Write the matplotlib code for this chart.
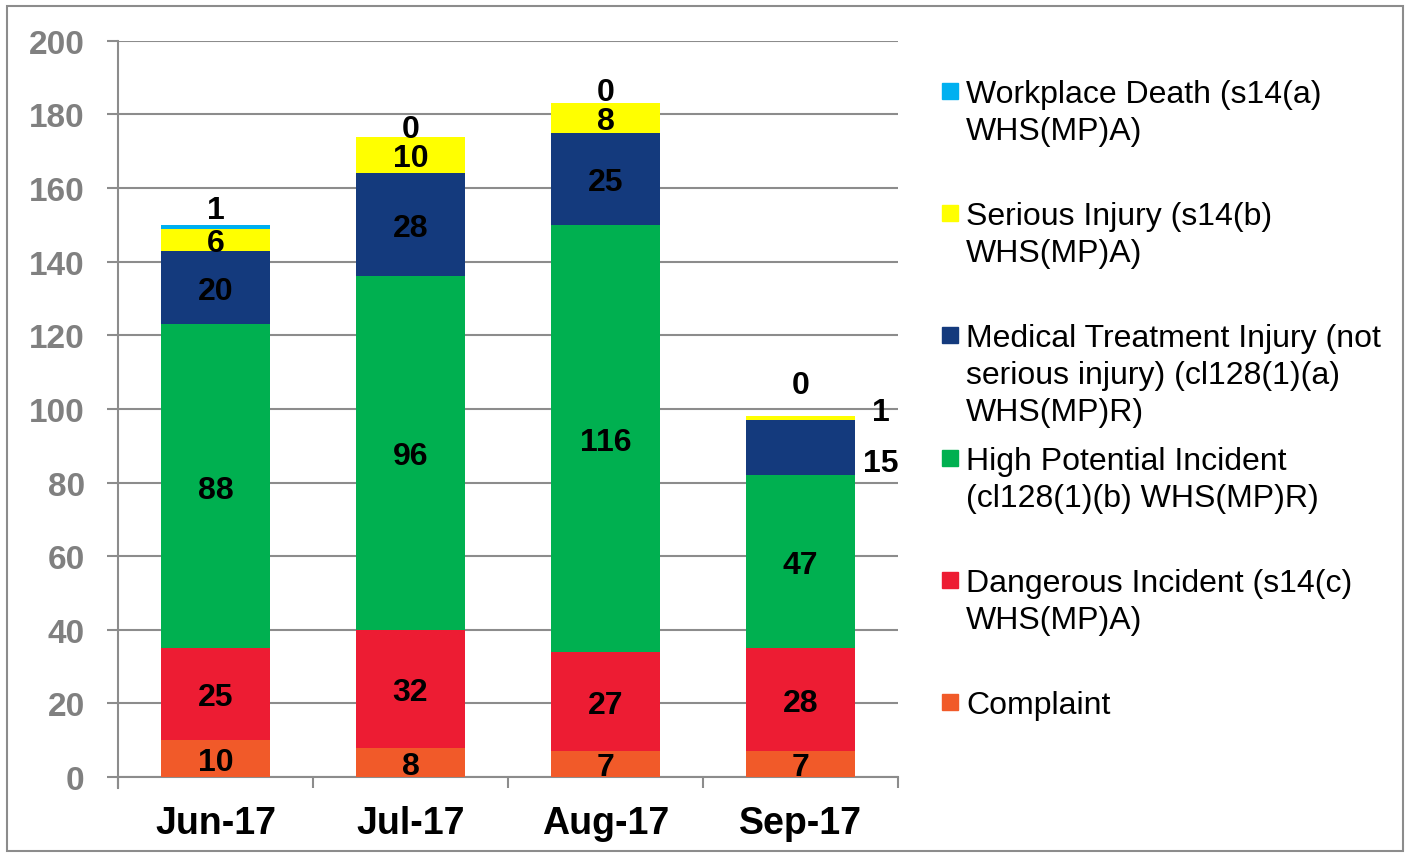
import matplotlib
matplotlib.use('AGG')
import matplotlib.pyplot as plt
from matplotlib.patches import Rectangle
import numpy as np

plt.rcParams['font.family'] = ['Liberation Sans', 'DejaVu Sans']

meses = ['Jun-17', 'Jul-17', 'Aug-17', 'Sep-17']
series = ['Complaint',
          'Dangerous Incident (s14(c)\nWHS(MP)A)',
          'High Potential Incident\n(cl128(1)(b) WHS(MP)R)',
          'Medical Treatment Injury (not\nserious injury) (cl128(1)(a)\nWHS(MP)R)',
          'Serious Injury (s14(b)\nWHS(MP)A)',
          'Workplace Death (s14(a)\nWHS(MP)A)']
complaint = [10, 8, 7, 7]
dangerous = [25, 32, 27, 28]
high_potential = [88, 96, 116, 47]
medical = [20, 28, 25, 15]
serious = [6, 10, 8, 1]
death = [1, 0, 0, 0]
valores = [complaint, dangerous, high_potential, medical, serious, death]
colores = ['#F15A29', '#ED1C33', '#00B050', '#143A7D', '#FFFF00', '#00B0F0']
yticks = list(range(0, 201, 20))

fig = plt.figure(figsize=(14.13, 8.54), dpi=100)
ax = fig.add_axes([0.0835, 0.089, 0.552, 0.862])

x = np.arange(len(meses))
ancho = 0.56
base = np.zeros(len(meses))
for vals, col in zip(valores, colores):
    ax.bar(x, vals, ancho, bottom=base, color=col, zorder=3)
    base = base + np.array(vals)

# etiquetas dentro de los segmentos (complaint .. serious)
etiq = dict(ha='center', va='center', fontsize=23, fontweight='bold', color='black', zorder=5)
bajar = 0.9
abajo = np.zeros(len(meses))
for k, vals in enumerate(valores[:5]):
    for i, v in enumerate(vals):
        cy = abajo[i] + v / 2 - bajar
        cx = x[i]
        if i == 3 and k >= 3:
            # Sep: etiquetas pequeñas a la derecha de la barra
            cx = x[i] + 0.41
            cy = cy - 3.4 if k == 3 else cy + 2.5
        ax.text(cx, cy, str(v), **etiq)
    abajo = abajo + np.array(vals)

# workplace death encima de la barra
subida = [5, 3, 4, 9.3]
for i, v in enumerate(death):
    ax.text(x[i], base[i] + subida[i] - bajar, str(v), **etiq)

gris = '#8C8C8C'
ax.set_ylim(0, 200)
ax.set_xlim(-0.5, 3.5)
ax.set_yticks(yticks, [str(t) for t in yticks], fontsize=24, fontweight='bold')
ax.yaxis.grid(True, color=gris, lw=1.5, zorder=0)
ax.set_xticks(x, meses, fontsize=27, fontweight='bold')
ax.set_xticks(np.arange(-0.5, 3.6, 1), minor=True)
ax.tick_params(axis='x', which='major', length=0, pad=20)
ax.tick_params(axis='x', which='minor', length=8, width=1.5, color=gris, direction='out')
ax.tick_params(axis='y', length=8, width=1.5, color=gris, labelcolor='#808080', pad=16)
for s in ['top', 'right']:
    ax.spines[s].set_visible(False)
for s in ['left', 'bottom']:
    ax.spines[s].set_color(gris)
    ax.spines[s].set_linewidth(1.5)
ax.spines['left'].set_bounds(-3, 200)

# leyenda a mano, el cuadro alineado con la primera línea
W, H = 1413.0, 854.0
ypos = [92, 214, 336, 459, 581, 703]
orden = list(range(5, -1, -1))
for yy, k in zip(ypos, orden):
    fig.patches.append(Rectangle((942 / W, 1 - (yy + 8) / H), 16 / W, 16 / H,
                                 transform=fig.transFigure, color=colores[k]))
    fig.text(966 / W, 1 - (yy - 12) / H, series[k], fontsize=23, va='top',
             ha='left', linespacing=1.3)

fig.patches.append(Rectangle((7 / W, 2 / H), 1396 / W, 845 / H, transform=fig.transFigure,
                             fill=False, edgecolor='#8C8C8C', lw=1.5))

plt.savefig('out.png', dpi=100)
plt.close()
